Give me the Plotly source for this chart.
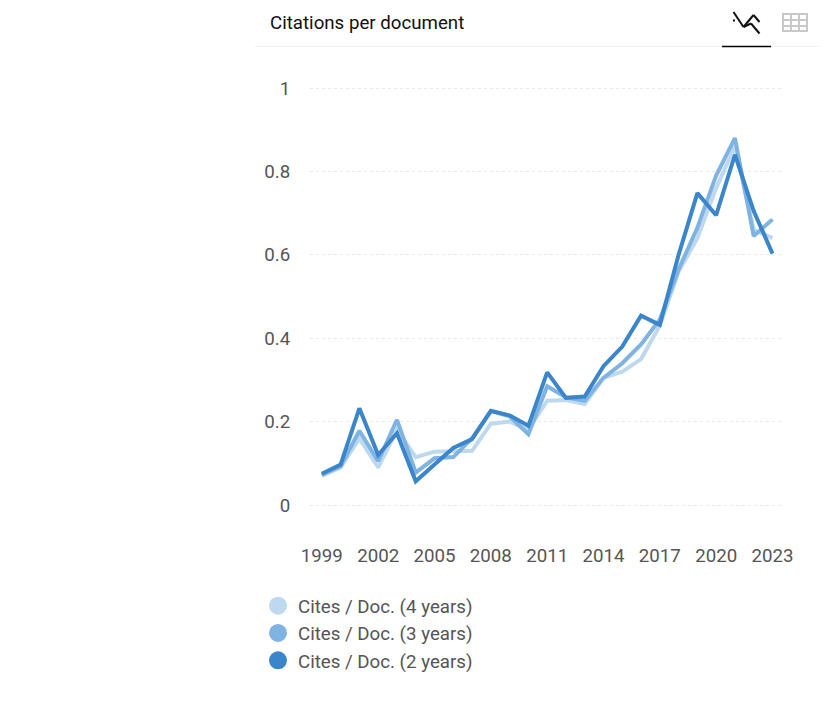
"""Citations per document — three Cites / Doc. series, 1999-2023."""
import plotly.graph_objects as go

WIDTH = 823
HEIGHT = 708
FONT = "Roboto, sans-serif"
TEXT_COLOR = "#555555"

YEARS = list(range(1999, 2024))
CITES_4Y = [0.070, 0.090, 0.160, 0.090, 0.180, 0.115, 0.128, 0.130, 0.130, 0.195, 0.200, 0.180, 0.250,
            0.252, 0.242, 0.305, 0.320, 0.350, 0.430, 0.560, 0.640, 0.760, 0.860, 0.660, 0.640]
CITES_3Y = [0.073, 0.093, 0.178, 0.105, 0.204, 0.078, 0.112, 0.115, 0.160, 0.225, 0.213, 0.170, 0.285,
            0.258, 0.250, 0.305, 0.340, 0.385, 0.445, 0.565, 0.665, 0.790, 0.880, 0.645, 0.685]
CITES_2Y = [0.075, 0.097, 0.232, 0.120, 0.172, 0.057, 0.097, 0.137, 0.158, 0.226, 0.215, 0.190, 0.318,
            0.257, 0.260, 0.333, 0.380, 0.454, 0.432, 0.600, 0.748, 0.695, 0.840, 0.705, 0.603]
SERIES = [
    ("Cites / Doc. (4 years)", CITES_4Y, "#bed8f0"),
    ("Cites / Doc. (3 years)", CITES_3Y, "#7fb3e2"),
    ("Cites / Doc. (2 years)", CITES_2Y, "#3b86ca"),
]
X_TICKS = [1999, 2002, 2005, 2008, 2011, 2014, 2017, 2020, 2023]
Y_TICKS = [0, 0.2, 0.4, 0.6, 0.8, 1]
Y_LABELS = ["0", "0.2", "0.4", "0.6", "0.8", "1"]

# plot area in window pixels
PLOT_L, PLOT_R, PLOT_T, PLOT_B = 310, 783, 68, 533
ICON = "#111111"
ICON_OFF = "#c8c8c8"


def _px(x, y):
    """Window pixels -> paper coordinates."""
    return (x - PLOT_L) / (PLOT_R - PLOT_L), (PLOT_B - y) / (PLOT_B - PLOT_T)


def _line(x0, y0, x1, y1, color, width):
    px0, py0 = _px(x0, y0)
    px1, py1 = _px(x1, y1)
    return dict(type="line", xref="paper", yref="paper", x0=px0, y0=py0, x1=px1, y1=py1,
                line=dict(color=color, width=width), layer="above")


fig = go.Figure()
for name, values, color in SERIES:
    fig.add_trace(go.Scatter(
        x=YEARS, y=values, mode="lines", line=dict(color=color, width=4),
        showlegend=False, name=name, hoverinfo="x+y",
    ))
# legend swatches are round, so they get their own marker-only entries
for name, values, color in SERIES:
    fig.add_trace(go.Scatter(
        x=[None], y=[None], mode="markers", name=name, legendgroup=name,
        marker=dict(color=color, size=16, line=dict(color=color, width=2)),
    ))

shapes = [_line(255, 46.5, 819, 46.5, "#f0f0f0", 1), _line(722, 46.5, 771, 46.5, "#000000", 1.5)]
# chart tab icon
shapes += [
    _line(733.5, 12, 743.5, 27, ICON, 2), _line(743.5, 27, 753.5, 15, ICON, 2),
    _line(753.5, 15, 759.5, 22, ICON, 2), _line(743.5, 27, 751, 23.5, ICON, 2),
    _line(751, 23.5, 759.5, 33.5, ICON, 2), _line(733, 20.5, 735, 20.5, ICON, 2),
]
# table tab icon
ix0, ix1, iy0, iy1 = 783, 807, 14, 31
shapes.append(dict(type="rect", xref="paper", yref="paper",
                   x0=_px(ix0, iy0)[0], y0=_px(ix0, iy0)[1], x1=_px(ix1, iy1)[0], y1=_px(ix1, iy1)[1],
                   line=dict(color=ICON_OFF, width=2)))
shapes += [_line(ix0, 20, ix1, 20, ICON_OFF, 2), _line(ix0, 26, ix1, 26, ICON_OFF, 2),
           _line(791, iy0, 791, iy1, ICON_OFF, 2), _line(799, iy0, 799, iy1, ICON_OFF, 2)]

title_x, title_y = _px(268, 23)
fig.update_layout(
    width=WIDTH, height=HEIGHT,
    margin=dict(l=PLOT_L, r=WIDTH - PLOT_R, t=PLOT_T, b=HEIGHT - PLOT_B, pad=0),
    paper_bgcolor="white", plot_bgcolor="white",
    font=dict(family=FONT, size=18.7, color=TEXT_COLOR),
    xaxis=dict(range=[1998.37, 2023.56], tickvals=X_TICKS, ticktext=[str(v) for v in X_TICKS],
               showgrid=False, zeroline=False, showline=False, ticks="outside",
               ticklen=6, tickcolor="rgba(0,0,0,0)"),
    yaxis=dict(range=[-0.0671, 1.048], tickvals=Y_TICKS, ticktext=Y_LABELS,
               showgrid=True, gridcolor="#e9e9e9", griddash="dot", gridwidth=1,
               zeroline=False, showline=False, ticks="outside",
               ticklen=15, tickcolor="rgba(0,0,0,0)"),
    legend=dict(x=_px(258, 0)[0], y=_px(0, 587)[1], xanchor="left", yanchor="top",
                bgcolor="rgba(0,0,0,0)", tracegroupgap=0, itemclick=False, itemdoubleclick=False,
                font=dict(family=FONT, size=18.7, color=TEXT_COLOR)),
    shapes=shapes,
    annotations=[dict(text="Citations per document", xref="paper", yref="paper", x=title_x, y=title_y,
                      xanchor="left", yanchor="middle", showarrow=False,
                      font=dict(family=FONT, size=18.7, color="#111111"))],
)

fig.write_html("out.html", config=dict(displayModeBar=False),
               post_script="document.body.style.margin = '0';")
